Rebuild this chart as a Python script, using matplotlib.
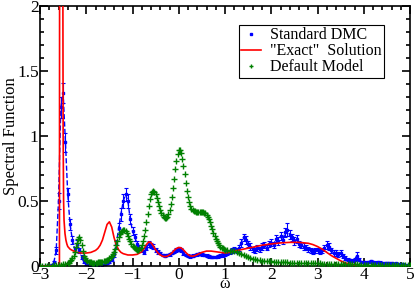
import numpy as np
import matplotlib
matplotlib.use("Agg")
import matplotlib.pyplot as plt
from matplotlib.ticker import MultipleLocator

plt.rcParams['font.family'] = ['Liberation Serif', 'DejaVu Serif']

# common frequency grid (step 0.05) for the DMC data
omega = np.round(np.arange(-3.0, 5.0001, 0.05), 3)

dmc = [0.0, 0.0, 0.0, 0.0, 0.002, 0.008, 0.03, 0.12, 0.5, 1.22,
       1.33, 0.95, 0.55, 0.32, 0.2, 0.13, 0.17, 0.12, 0.07, 0.035,
       0.015, 0.01, 0.008, 0.006, 0.008, 0.01, 0.012, 0.01, 0.015, 0.02,
       0.03, 0.05, 0.09, 0.17, 0.29, 0.4, 0.5, 0.55, 0.5, 0.36,
       0.27, 0.22, 0.17, 0.14, 0.12, 0.11, 0.14, 0.17, 0.16, 0.15,
       0.12, 0.11, 0.1, 0.085, 0.08, 0.085, 0.09, 0.1, 0.11, 0.125,
       0.13, 0.12, 0.1, 0.085, 0.08, 0.075, 0.08, 0.085, 0.09, 0.095,
       0.09, 0.085, 0.08, 0.075, 0.07, 0.068, 0.07, 0.075, 0.08, 0.085,
       0.09, 0.1, 0.11, 0.12, 0.13, 0.12, 0.14, 0.18, 0.22, 0.2,
       0.17, 0.15, 0.13, 0.12, 0.14, 0.13, 0.15, 0.16, 0.14, 0.17,
       0.18, 0.16, 0.21, 0.19, 0.23, 0.2, 0.26, 0.28, 0.24, 0.22,
       0.19, 0.21, 0.17, 0.16, 0.15, 0.14, 0.13, 0.12, 0.11, 0.12,
       0.12, 0.11, 0.12, 0.14, 0.16, 0.15, 0.12, 0.1, 0.1, 0.09,
       0.1, 0.08, 0.06, 0.05, 0.045, 0.04, 0.05, 0.08, 0.05, 0.03,
       0.03, 0.025, 0.03, 0.035, 0.03, 0.025, 0.03, 0.025, 0.02, 0.025,
       0.02, 0.025, 0.02, 0.018, 0.02, 0.015, 0.015, 0.012, 0.01, 0.008,
       0.005]

dmc_err = [0.0, 0.0, 0.0, 0.0, 0.002, 0.005, 0.01, 0.03, 0.06, 0.08,
           0.08, 0.07, 0.05, 0.04, 0.03, 0.02, 0.03, 0.02, 0.015, 0.01,
           0.005, 0.005, 0.005, 0.005, 0.005, 0.005, 0.005, 0.005, 0.005, 0.008,
           0.01, 0.015, 0.02, 0.03, 0.04, 0.05, 0.05, 0.05, 0.05, 0.04,
           0.03, 0.03, 0.02, 0.02, 0.015, 0.015, 0.02, 0.02, 0.02, 0.02,
           0.015, 0.015, 0.01, 0.01, 0.01, 0.01, 0.01, 0.01, 0.012, 0.015,
           0.015, 0.015, 0.012, 0.01, 0.01, 0.01, 0.01, 0.01, 0.01, 0.01,
           0.01, 0.01, 0.01, 0.01, 0.01, 0.01, 0.01, 0.01, 0.01, 0.012,
           0.012, 0.015, 0.015, 0.02, 0.02, 0.02, 0.025, 0.03, 0.03, 0.03,
           0.025, 0.025, 0.02, 0.02, 0.025, 0.02, 0.025, 0.025, 0.02, 0.025,
           0.025, 0.025, 0.03, 0.03, 0.03, 0.03, 0.035, 0.05, 0.035, 0.03,
           0.03, 0.03, 0.025, 0.025, 0.025, 0.02, 0.02, 0.02, 0.02, 0.02,
           0.02, 0.02, 0.02, 0.025, 0.03, 0.025, 0.02, 0.02, 0.02, 0.02,
           0.02, 0.015, 0.015, 0.012, 0.012, 0.012, 0.015, 0.03, 0.015, 0.01,
           0.01, 0.01, 0.01, 0.012, 0.01, 0.01, 0.01, 0.01, 0.008, 0.008,
           0.008, 0.008, 0.008, 0.006, 0.006, 0.006, 0.005, 0.005, 0.004, 0.004,
           0.003]

# default model: sampled at 0.05 on the flanks and 0.025 in the structured region
model_omega = np.round(np.concatenate([np.arange(-3.0, -2.449, 0.05),
                                       np.arange(-2.40, 1.0001, 0.025),
                                       np.arange(1.05, 5.0001, 0.05)]), 3)
default_model = [
    # -3.00 .. -2.45
    0.0, 0.0, 0.0, 0.002, 0.003, 0.004, 0.005, 0.006, 0.008, 0.01, 0.012, 0.016,
    # -2.40 .. 1.00 (step 0.025)
    0.022, 0.027, 0.035, 0.045, 0.06, 0.08, 0.11, 0.145, 0.18, 0.21,
    0.22, 0.2, 0.16, 0.115, 0.08, 0.058, 0.045, 0.037, 0.032, 0.03,
    0.028, 0.027, 0.027, 0.027, 0.027, 0.027, 0.028, 0.029, 0.03, 0.031,
    0.033, 0.035, 0.038, 0.041, 0.045, 0.05, 0.058, 0.068, 0.08, 0.094,
    0.11, 0.133, 0.16, 0.19, 0.22, 0.243, 0.26, 0.273, 0.28, 0.279,
    0.27, 0.252, 0.23, 0.21, 0.19, 0.17, 0.155, 0.144, 0.135, 0.129,
    0.125, 0.125, 0.13, 0.141, 0.16, 0.19, 0.23, 0.28, 0.34, 0.40,
    0.46, 0.515, 0.55, 0.57, 0.575, 0.568, 0.55, 0.522, 0.49, 0.458,
    0.43, 0.407, 0.39, 0.378, 0.37, 0.371, 0.38, 0.4, 0.43, 0.475,
    0.53, 0.597, 0.67, 0.745, 0.81, 0.862, 0.89, 0.89, 0.87, 0.825,
    0.77, 0.705, 0.64, 0.58, 0.53, 0.49, 0.46, 0.442, 0.43, 0.424,
    0.42, 0.417, 0.415, 0.415, 0.415, 0.415, 0.415, 0.413, 0.41, 0.404,
    0.395, 0.38, 0.36, 0.336, 0.31, 0.282, 0.255, 0.231, 0.21, 0.191,
    0.175, 0.162, 0.15, 0.142, 0.135, 0.13, 0.125,
    # 1.05 .. 5.00
    0.12, 0.118, 0.116, 0.114, 0.11, 0.104, 0.096, 0.087, 0.078, 0.07,
    0.063, 0.057, 0.052, 0.048, 0.045, 0.042, 0.04, 0.038, 0.036, 0.035,
    0.034, 0.033, 0.032, 0.031, 0.03, 0.029, 0.028, 0.027, 0.026, 0.025,
    0.025, 0.024, 0.024, 0.023, 0.023, 0.022, 0.022, 0.021, 0.021, 0.02,
    0.02, 0.019, 0.019, 0.018, 0.018, 0.017, 0.017, 0.016, 0.016, 0.015,
    0.015, 0.014, 0.014, 0.013, 0.013, 0.012, 0.012, 0.011, 0.011, 0.01,
    0.01, 0.0095, 0.009, 0.0088, 0.0085, 0.008, 0.0078, 0.0075, 0.0072, 0.007,
    0.0068, 0.0065, 0.0062, 0.006, 0.0058, 0.0056, 0.0054, 0.0052, 0.005, 0.005]

exact_omega = [-3.0, -2.58, -2.575, -2.51, -2.50, -2.49, -2.48, -2.46, -2.44, -2.42,
               -2.40, -2.35, -2.30, -2.2, -2.1, -2.0, -1.9, -1.8, -1.75, -1.7,
               -1.65, -1.6, -1.55, -1.5, -1.45, -1.4, -1.35, -1.3, -1.25, -1.2,
               -1.1, -1.0, -0.9, -0.8, -0.75, -0.7, -0.65, -0.6, -0.55, -0.5,
               -0.45, -0.4, -0.35, -0.3, -0.25, -0.2, -0.15, -0.1, -0.05, 0.0,
               0.05, 0.1, 0.15, 0.2, 0.25, 0.3, 0.35, 0.4, 0.5, 0.6,
               0.7, 0.8, 0.9, 1.0, 1.1, 1.2, 1.4, 1.6, 1.8, 2.0,
               2.2, 2.4, 2.6, 2.8, 2.9, 3.0, 3.1, 3.2, 3.3, 3.4,
               3.5, 3.6, 3.7, 3.8, 3.9, 4.0, 4.5, 5.0]
exact = [0.0, 0.0, 3.0, 3.0, 1.0, 0.5, 0.35, 0.25, 0.2, 0.17,
         0.15, 0.13, 0.12, 0.105, 0.1, 0.1, 0.105, 0.12, 0.135, 0.16,
         0.2, 0.26, 0.32, 0.34, 0.3, 0.22, 0.16, 0.125, 0.105, 0.095,
         0.085, 0.085, 0.09, 0.11, 0.135, 0.165, 0.185, 0.18, 0.155, 0.125,
         0.1, 0.085, 0.075, 0.072, 0.075, 0.085, 0.1, 0.12, 0.135, 0.143,
         0.14, 0.125, 0.105, 0.088, 0.078, 0.075, 0.08, 0.088, 0.105, 0.115,
         0.115, 0.11, 0.105, 0.1, 0.105, 0.115, 0.13, 0.145, 0.16, 0.17,
         0.178, 0.182, 0.182, 0.175, 0.165, 0.15, 0.13, 0.105, 0.08, 0.06,
         0.04, 0.025, 0.015, 0.008, 0.003, 0.0, 0.0, 0.0]

fig = plt.figure(figsize=(4.15, 2.93), dpi=100)
ax = fig.add_axes([0.0964, 0.092, 0.8916, 0.888])

ax.errorbar(omega, dmc, yerr=dmc_err, fmt='s', color='blue', ms=2, mec='blue',
            ecolor='blue', elinewidth=0.8, capsize=1.2, capthick=0.8, zorder=2)
ax.plot(omega, dmc, '--', color='blue', lw=1.0, zorder=2)
ax.plot(exact_omega, exact, '-', color='red', lw=1.2, zorder=3)
ax.plot(model_omega, default_model, '+', color='#008000', ms=4.5, mew=1.0, zorder=4)

# legend handles
h1, = ax.plot([], [], 's', color='blue', ms=2)
h2, = ax.plot([], [], '-', color='red', lw=1.2)
h3, = ax.plot([], [], '+', color='#008000', ms=3, mew=1.0)
leg = ax.legend([h1, h2, h3], ['Standard DMC', '"Exact"  Solution', 'Default Model'],
                loc='upper right', bbox_to_anchor=(0.93, 0.927), fontsize=11.5,
                frameon=True, fancybox=False, edgecolor='black', framealpha=1,
                borderaxespad=0, labelspacing=0.0, handlelength=1.2,
                handletextpad=0.6, borderpad=0.15)
leg.get_frame().set_linewidth(0.8)

ax.set_xlim(-3, 5)
ax.set_ylim(0, 2)
ax.xaxis.set_major_locator(MultipleLocator(1))
ax.xaxis.set_minor_locator(MultipleLocator(0.2))
ax.yaxis.set_major_locator(MultipleLocator(0.5))
ax.yaxis.set_minor_locator(MultipleLocator(0.1))
ax.set_yticks([0, 0.5, 1, 1.5, 2])
ax.set_yticklabels(['0', '0.5', '1', '1.5', '2'])
ax.tick_params(which='both', direction='in', top=True, right=True, labelsize=12.5, width=1.2)
ax.tick_params(which='major', length=6)
ax.tick_params(which='minor', length=3)
ax.tick_params(axis='x', pad=0.5)
ax.tick_params(axis='y', pad=1)
for s in ax.spines.values():
    s.set_linewidth(1.2)

ax.set_xlabel('ω', fontsize=11.5, va='bottom')
ax.set_ylabel('Spectral Function', fontsize=12)
ax.xaxis.set_label_coords(0.5, -0.1)
ax.yaxis.set_label_coords(-0.056, 0.5)

fig.savefig('out.png', dpi=100)
